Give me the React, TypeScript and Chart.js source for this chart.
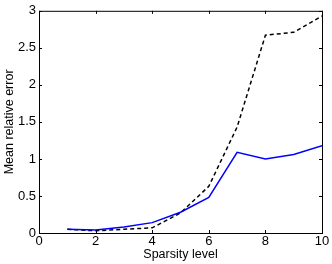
import React, { useEffect, useRef } from "react";
import { Chart, registerables } from "chart.js";

Chart.register(...registerables);

const sparsityLevels = [1, 2, 3, 4, 5, 6, 7, 8, 9, 10];
const solidSeries = [0.05, 0.04, 0.08, 0.14, 0.28, 0.48, 1.09, 1.0, 1.06, 1.18];
const dashedSeries = [0.05, 0.03, 0.05, 0.07, 0.27, 0.63, 1.43, 2.67, 2.71, 2.93];
const xTitle = "Sparsity level";
const yTitle = "Mean relative error";

const boxPlugin = {
  id: "matlabBox",
  afterDraw(chart: any) {
    const { ctx, chartArea, scales } = chart;
    const { left, right, top, bottom } = chartArea;
    const tl = 3;
    ctx.save();
    ctx.strokeStyle = "#000";
    ctx.lineWidth = 1;
    ctx.strokeRect(left + 0.5, top + 0.5, right - left, bottom - top);
    ctx.beginPath();
    scales.x.ticks.forEach((t: any) => {
      const px = Math.round(scales.x.getPixelForValue(t.value)) + 0.5;
      ctx.moveTo(px, bottom);
      ctx.lineTo(px, bottom - tl);
      ctx.moveTo(px, top);
      ctx.lineTo(px, top + tl);
    });
    scales.y.ticks.forEach((t: any) => {
      const py = Math.round(scales.y.getPixelForValue(t.value)) + 0.5;
      ctx.moveTo(left, py);
      ctx.lineTo(left + tl, py);
      ctx.moveTo(right, py);
      ctx.lineTo(right - tl, py);
    });
    ctx.stroke();
    ctx.restore();
  },
};

export default function App() {
  const ref = useRef<HTMLCanvasElement | null>(null);
  useEffect(() => {
    if (!ref.current) return;
    const family = "'Liberation Sans', Arial, sans-serif";
    const tickFont = { family, size: 13 };
    const titleFont = { family, size: 12.5 };
    const chart = new Chart(ref.current, {
      type: "line",
      data: {
        datasets: [
          {
            data: sparsityLevels.map((x, i) => ({ x, y: solidSeries[i] })),
            borderColor: "#0000ff",
            borderWidth: 1.5,
            pointRadius: 0,
            fill: false,
          },
          {
            data: sparsityLevels.map((x, i) => ({ x, y: dashedSeries[i] })),
            borderColor: "#000000",
            borderWidth: 1.5,
            borderDash: [4, 3],
            pointRadius: 0,
            fill: false,
          },
        ],
      },
      options: {
        animation: false,
        responsive: false,
        devicePixelRatio: 1,
        layout: { padding: { left: 0, right: 10, top: 10, bottom: 0 } },
        plugins: { legend: { display: false }, tooltip: { enabled: false } },
        scales: {
          x: {
            type: "linear",
            min: 0,
            max: 10,
            ticks: { stepSize: 2, color: "#000", font: tickFont, padding: 1, callback: (v: any) => String(v) },
            grid: { display: false, drawTicks: false },
            border: { display: false },
            title: { display: true, text: xTitle, color: "#000", font: titleFont, padding: { top: 0, bottom: 2 } },
            afterFit: (s: any) => {
              s.height = 31;
            },
          },
          y: {
            type: "linear",
            min: 0,
            max: 3,
            ticks: { stepSize: 0.5, color: "#000", font: tickFont, padding: 3, callback: (v: any) => String(v) },
            grid: { display: false, drawTicks: false },
            border: { display: false },
            title: { display: true, text: yTitle, color: "#000", font: titleFont, padding: { top: 2, bottom: 0 } },
            afterFit: (s: any) => {
              s.width = 39;
            },
          },
        },
      },
      plugins: [boxPlugin],
    });
    return () => chart.destroy();
  }, []);
  return (
    <div style={{ position: "fixed", left: 0, top: 0, width: 332, height: 264, background: "#fff" }}>
      <canvas ref={ref} width={332} height={264} />
    </div>
  );
}
